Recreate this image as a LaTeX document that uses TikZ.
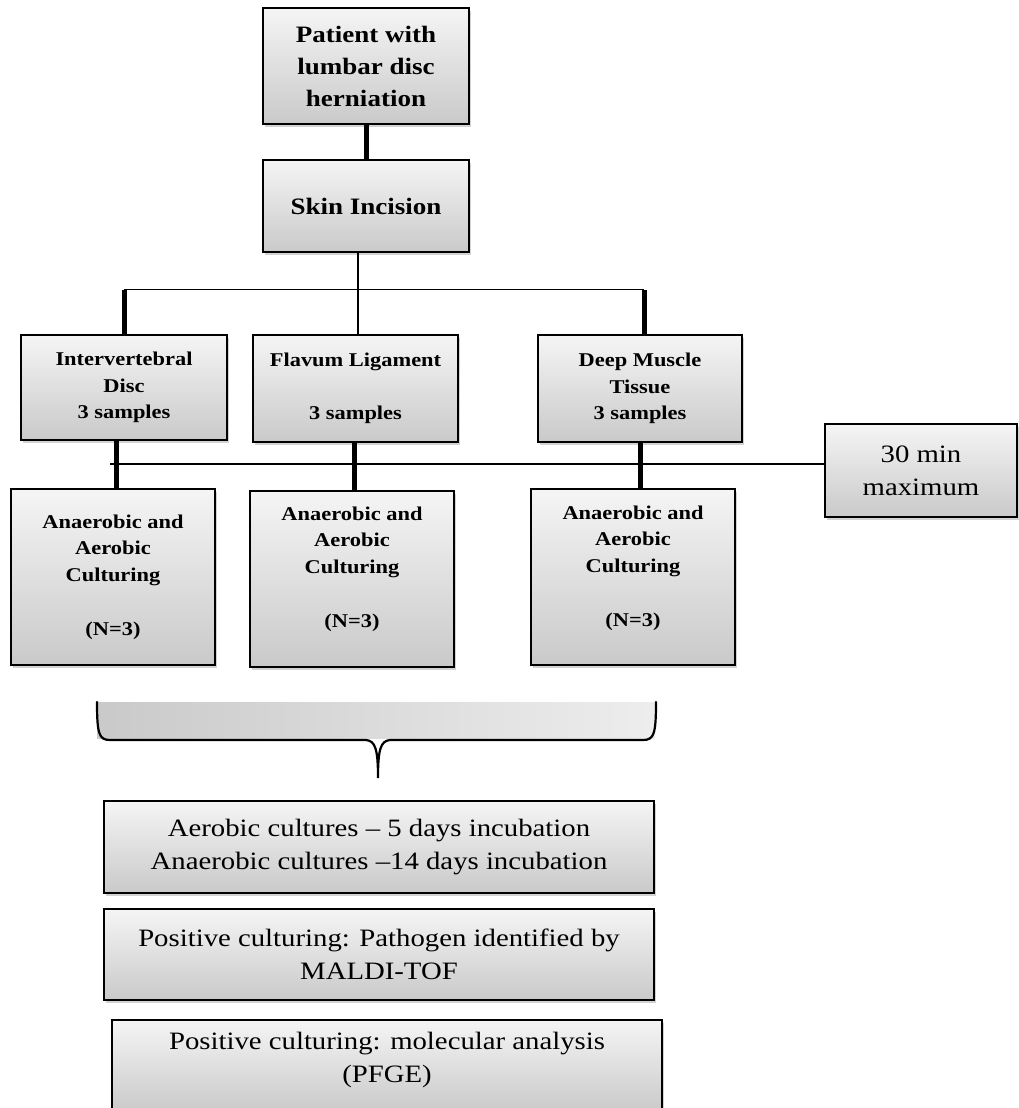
\documentclass[tikz,border=0pt]{standalone}
\usepackage{fontspec}
\setmainfont{Liberation Serif}[FakeStretch=1.15]
\usetikzlibrary{shadows,calc}
\tikzset{
  gbox/.style={draw=black, line width=2pt, top color=gray!8, bottom color=gray!42,
    drop shadow={shadow xshift=2pt, shadow yshift=-3pt, fill=gray!70, opacity=0.5},
    inner sep=0pt, align=center, anchor=center},
  bigb/.style={font=\fontsize{23.5}{32}\selectfont\bfseries},
  midb/.style={font=\fontsize{19.5}{26.8}\selectfont\bfseries},
  bigr/.style={font=\fontsize{25}{33}\selectfont},
  thickline/.style={line width=5pt},
  thinline/.style={line width=1.8pt}
}
\begin{document}
\begin{tikzpicture}[x=1pt,y=-1pt]
\useasboundingbox (0,0) rectangle (1019,1108);

% top boxes
\node[gbox,bigb,minimum width=206pt,minimum height=116pt] (pat) at (366,66) {Patient with\\lumbar disc\\herniation};
\node[gbox,bigb,minimum width=206pt,minimum height=92pt] (skin) at (366,206) {Skin Incision};

% sample boxes
\node[gbox,midb,minimum width=206pt,minimum height=105pt] (disc) at (124,387.5) {Intervertebral\\Disc\\3 samples};
\node[gbox,midb,minimum width=205pt,minimum height=107pt] (flav) at (355.5,388.5) {Flavum Ligament\\[26.8pt]3 samples};
\node[gbox,midb,minimum width=204pt,minimum height=107pt] (deep) at (640,388.5) {Deep Muscle\\Tissue\\3 samples};

% time box
\node[gbox,bigr,minimum width=192pt,minimum height=93pt] (time) at (921,470.5) {30 min\\maximum};

% culturing boxes
\node[gbox,midb,minimum width=204pt,minimum height=176pt] (cultA) at (113,577) {Anaerobic and\\Aerobic\\Culturing\\[26.8pt](N=3)};
\node[gbox,midb,minimum width=204pt,minimum height=176pt] (cultB) at (352,579) {};
\node[midb,align=center] at ($(cultB.center)+(0,-10)$) {Anaerobic and\\Aerobic\\Culturing\\[26.8pt](N=3)};
\node[gbox,midb,minimum width=204pt,minimum height=176pt] (cultC) at (633,577) {};
\node[midb,align=center] at ($(cultC.center)+(0,-9)$) {Anaerobic and\\Aerobic\\Culturing\\[26.8pt](N=3)};

% bottom boxes
\node[gbox,bigr,minimum width=550pt,minimum height=92pt] (inc) at (379,847) {Aerobic cultures – 5 days incubation\\Anaerobic cultures –14 days incubation};
\node[gbox,bigr,minimum width=550pt,minimum height=91pt] (maldi) at (379,954.5) {Positive culturing: Pathogen identified by\\MALDI-TOF};
\node[gbox,bigr,minimum width=550pt,minimum height=92pt,anchor=north] (pfge) at (387,1019) {};
\node[bigr,align=center] at (387,1060) {Positive culturing: molecular analysis\\(PFGE)};

% connectors top
\draw[thickline] (pat.south) -- (skin.north);
\coordinate (busL) at (124,289.5);
\coordinate (busR) at (644,289.5);
\draw[thinline] (busL) -- (busR);
\draw[thinline] (skin.south -| 358,0) -- (358,335);
\draw[thickline] (busL) -- (disc.north);
\draw[thickline] (busR) -- (busR |- deep.north);

% lower bus
\coordinate (lbus) at (110,464);
\draw[thinline] (lbus) -- (lbus -| time.west);
\draw[thickline] (116,440) -- (116,489);
\draw[thickline] (flav.south -| 354,0) -- (354,491);
\draw[thickline] (deep.south) -- (deep.south |- cultC.north);

% brace
\shade[left color=gray!42, right color=gray!14] (97,702) rectangle (655,738);
\draw[line width=2.2pt, line cap=round]
  (97,702) .. controls (97,734) and (99,740) .. (110,740) -- (366,740)
  .. controls (375,741) and (378,748) .. (378,778)
  .. controls (378,748) and (381,741) .. (390,740) -- (643,740)
  .. controls (654,740) and (656,734) .. (656,702);
\end{tikzpicture}
\end{document}
